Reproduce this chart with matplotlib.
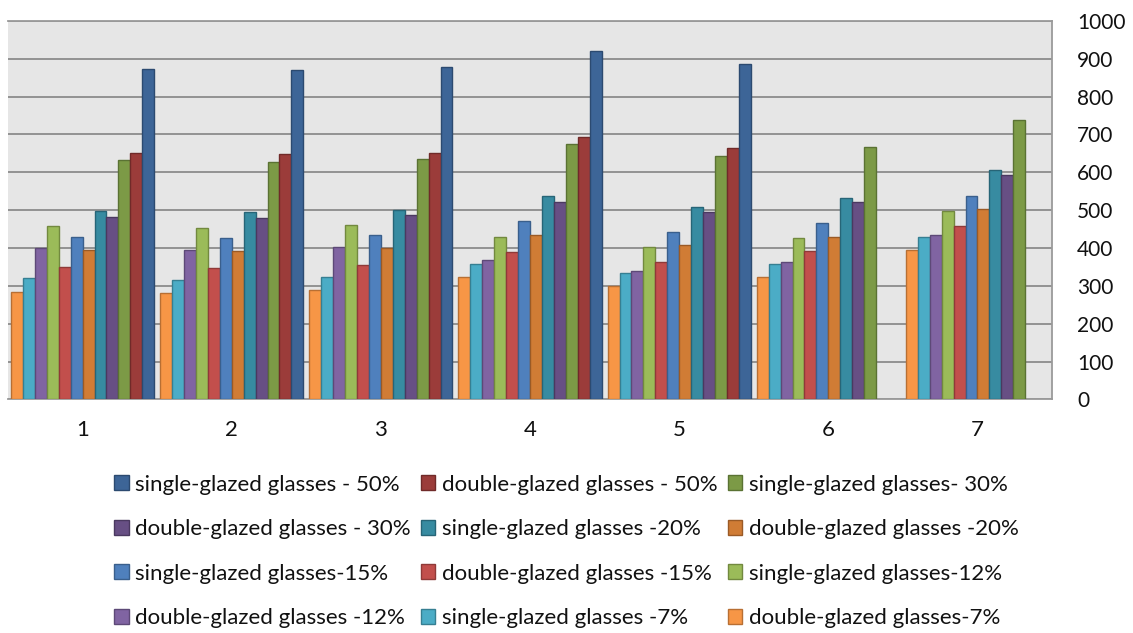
import numpy as np
import matplotlib.pyplot as plt

plt.rcParams['font.family'] = ['Lato', 'DejaVu Sans']

groups = ['1', '2', '3', '4', '5', '6', '7']
nan = np.nan

# series in legend order
labels = ['single-glazed glasses - 50%', 'double-glazed glasses - 50%', 'single-glazed glasses- 30%',
          'double-glazed glasses - 30%', 'single-glazed glasses -20%', 'double-glazed glasses -20%',
          'single-glazed glasses-15%', 'double-glazed glasses -15%', 'single-glazed glasses-12%',
          'double-glazed glasses -12%', 'single-glazed glasses -7%', 'double-glazed glasses-7%']

s50 = [873, 870, 877, 921, 886, nan, nan]
d50 = [651, 648, 651, 692, 664, nan, nan]
s30 = [632, 628, 636, 675, 644, 667, 739]
d30 = [482, 478, 486, 522, 494, 522, 592]
s20 = [498, 494, 501, 537, 509, 533, 605]
d20 = [396, 391, 399, 434, 407, 430, 502]
s15 = [430, 427, 434, 471, 442, 467, 537]
d15 = [351, 348, 355, 390, 363, 391, 458]
s12 = [458, 454, 462, 430, 402, 426, 498]
d12 = [399, 396, 403, 368, 340, 363, 434]
s7 = [320, 316, 324, 359, 335, 359, 430]
d7 = [284, 281, 288, 323, 300, 324, 395]

series = [s50, d50, s30, d30, s20, d20, s15, d15, s12, d12, s7, d7]
colors = ['#3d6597', '#9b3c3a', '#7c9a46', '#674f84', '#378ba1', '#d07c35',
          '#4f80bd', '#c24f4c', '#9bbb59', '#8064a2', '#4bacc6', '#f79646']
edges = ['#2c4a70', '#702a29', '#5a7233', '#4a3960', '#276577', '#9a5a26',
         '#3a5f8c', '#8f3a38', '#72893f', '#5d4977', '#367f92', '#b86f33']

fig = plt.figure(figsize=(11.33, 6.33), dpi=100)
ax = fig.add_axes([0.00706, 0.369, 0.9215, 0.598])
ax.set_facecolor('#e6e6e6')

x = np.arange(len(groups))
n = len(series)
w = 0.96 / n
# bars are drawn in reverse legend order (7% first)
bars = {}
for k, i in enumerate(range(n - 1, -1, -1)):
    bars[i] = ax.bar(x + (k - (n - 1) / 2) * w, series[i], w, color=colors[i],
                     edgecolor=edges[i], linewidth=1, label=labels[i], zorder=3)

ax.set_xlim(-0.5, 6.5)
ax.set_ylim(0, 1000)
ax.set_yticks(np.arange(0, 1001, 100))
ax.yaxis.tick_right()
ax.grid(axis='y', color='#8c8c8c', linewidth=1.3, zorder=1)
ax.set_xticks(x)
ax.set_xticklabels(groups)
ax.tick_params(axis='both', length=0, labelsize=15, colors='#111111')
ax.tick_params(axis='x', pad=15, labelsize=16)
ax.tick_params(axis='y', pad=18)
for side in ['top', 'right', 'bottom']:
    ax.spines[side].set_color('#9a9a9a')
    ax.spines[side].set_linewidth(1.3)
ax.spines['left'].set_visible(False)

# legend reads row-wise in the reference, matplotlib fills column-wise
order = [0, 3, 6, 9, 1, 4, 7, 10, 2, 5, 8, 11]
handles = [bars[i] for i in order]
leg = fig.legend(handles, [labels[i] for i in order], ncol=3, loc='center',
                 bbox_to_anchor=(0.5, 0.129), frameon=False, fontsize=16,
                 handlelength=0.65, handleheight=0.65, handletextpad=0.3,
                 columnspacing=0.45, labelspacing=1.1)
for t in leg.get_texts():
    t.set_color('#111111')

fig.savefig('out.png', dpi=100)
